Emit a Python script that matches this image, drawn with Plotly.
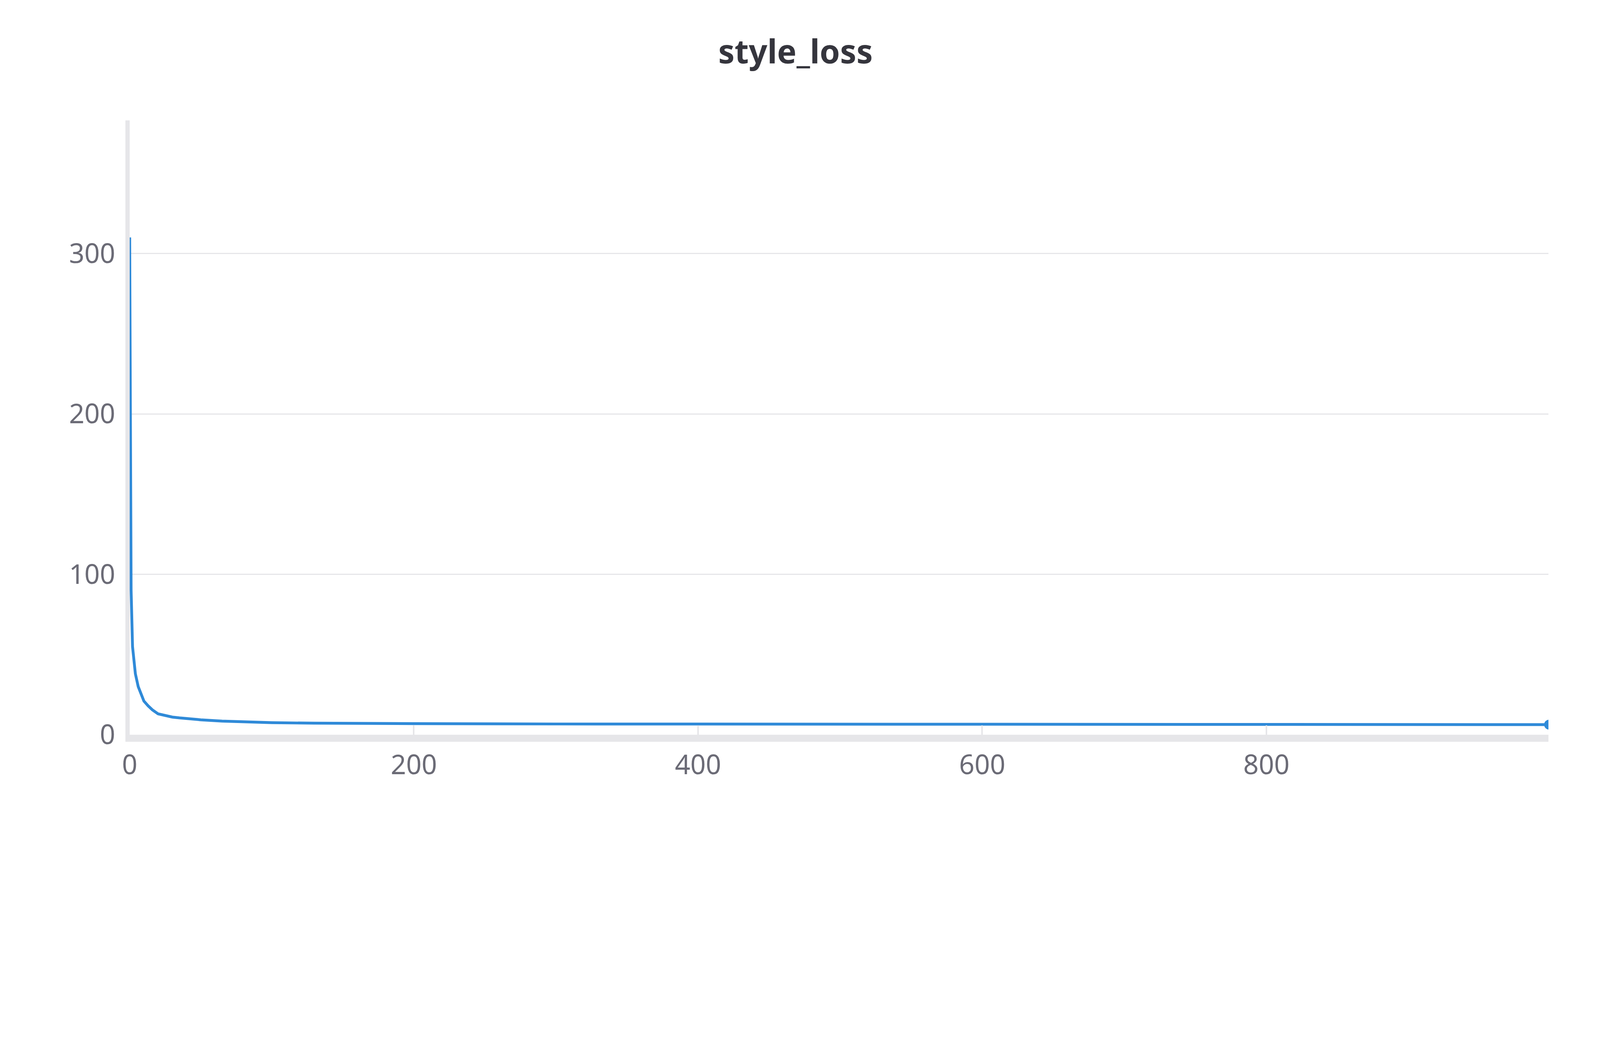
import plotly.graph_objects as go

steps = [0, 1, 2, 3, 4, 6, 8, 10, 13, 16, 20, 25, 30, 35, 42, 50, 65, 80, 100, 130, 160, 200, 300, 400, 500, 600, 700, 800, 900, 999]
style_loss = [310, 90, 55, 45, 38, 30, 25, 21, 18, 15.5, 13, 11.8, 11, 10.5, 9.9, 9.3, 8.5, 8.0, 7.5, 7.2, 7.0, 6.9, 6.7, 6.6, 6.5, 6.5, 6.4, 6.4, 6.3, 6.3]

x_ticks = [0, 200, 400, 600, 800]
y_ticks = [0, 100, 200, 300]

blue = "#2f8ad8"
grid = "#e6e6e9"
text_col = "#6b6b76"

# the page seems to be shown at about 1.25x, so size everything down
s = 1 / 1.246

fig = go.Figure()
fig.add_trace(go.Scatter(x=steps, y=style_loss, mode="lines",
                         line=dict(color=blue, width=9 * s), showlegend=False))
fig.add_trace(go.Scatter(x=[steps[-1]], y=[style_loss[-1]], mode="markers",
                         marker=dict(color=blue, size=32 * s), showlegend=False))
fig.add_annotation(x=steps[-1], y=style_loss[-1], text="Step", showarrow=False,
                   xanchor="right", yanchor="bottom", xshift=-40 * s, yshift=-5 * s,
                   font=dict(size=92 * s, color=text_col))

fig.update_layout(
    width=int(5056 * s), height=int(2656 * s),
    paper_bgcolor="white", plot_bgcolor="white",
    font=dict(family="Noto Sans", size=86 * s, color=text_col),
    title=dict(text="<b>style_loss</b>", x=0.5, y=0.955, yanchor="top",
               font=dict(size=104 * s, color="#35353d")),
    margin=dict(l=int(404 * s), r=int(127 * s), t=int(375 * s), b=int(323 * s)),
    xaxis=dict(range=[0, 998.5], tickvals=x_ticks, showgrid=False, zeroline=False,
               showline=True, linecolor=grid, linewidth=22 * s,
               ticks="inside", ticklen=30 * s, tickwidth=5 * s, tickcolor=grid),
    yaxis=dict(range=[0, 383], tickvals=y_ticks, showgrid=True, gridcolor=grid, gridwidth=4 * s,
               zeroline=False, showline=True, linecolor=grid, linewidth=14 * s,
               ticks="", ticklabelstandoff=int(15 * s)),
)

fig.write_html("out.html")
